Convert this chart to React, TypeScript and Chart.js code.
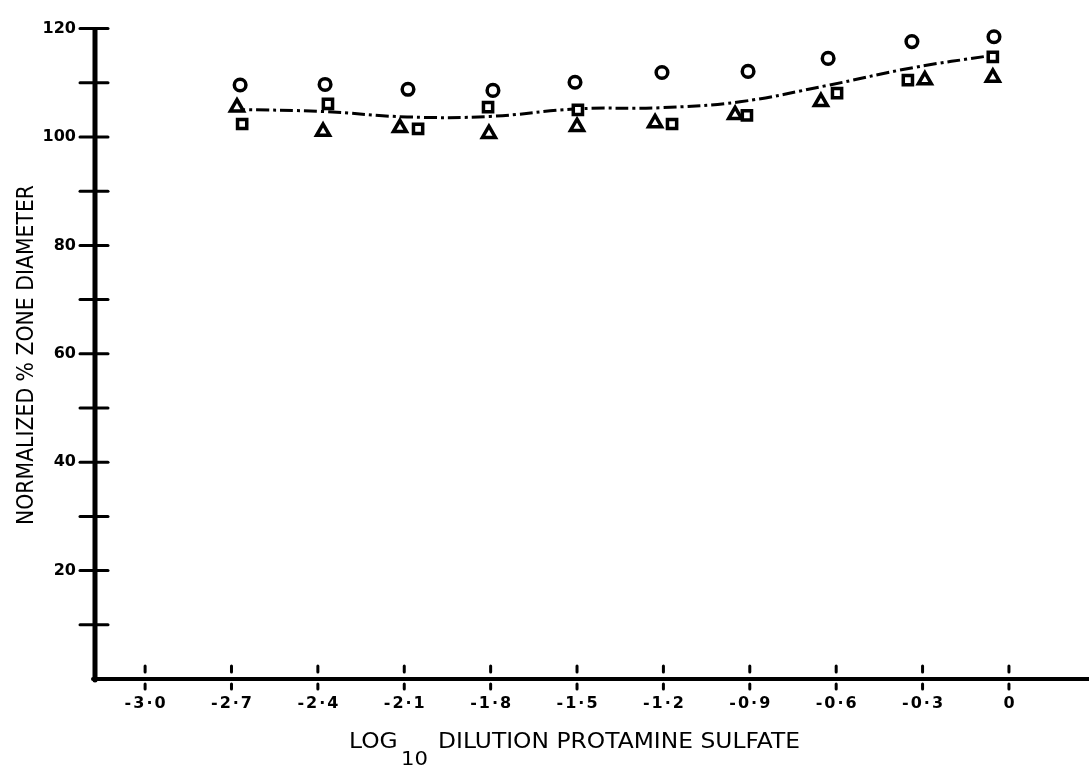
import React, { useEffect, useRef } from 'react';
import { Chart, registerables } from 'chart.js';

Chart.register(...registerables);

// ---------- data ----------
const xTickValues = [-3.0, -2.7, -2.4, -2.1, -1.8, -1.5, -1.2, -0.9, -0.6, -0.3, 0];
const xTickLabels = ['-3·0', '-2·7', '-2·4', '-2·1', '-1·8', '-1·5', '-1·2', '-0·9', '-0·6', '-0·3', '0'];
const yTickValues = [10, 20, 30, 40, 50, 60, 70, 80, 90, 100, 110, 120];
const yTickLabels = ['', '20', '', '40', '', '60', '', '80', '', '100', '', '120'];

const circleX = [-2.67, -2.375, -2.087, -1.792, -1.507, -1.205, -0.906, -0.628, -0.337, -0.052];
const circleY = [109.6, 109.7, 108.8, 108.6, 110.1, 111.9, 112.1, 114.5, 117.6, 118.5];

const squareX = [-2.663, -2.365, -2.052, -1.809, -1.497, -1.17, -0.91, -0.597, -0.351, -0.056];
const squareY = [102.4, 106.1, 101.5, 105.5, 105.0, 102.4, 104.0, 108.1, 110.5, 114.8];

const triangleX = [-2.681, -2.382, -2.115, -1.806, -1.5, -1.229, -0.951, -0.653, -0.292, -0.056];
const triangleY = [105.5, 101.0, 101.7, 100.6, 101.9, 102.6, 104.1, 106.5, 110.5, 111.0];

const fitX = [-2.698, -2.382, -2.09, -1.802, -1.5, -1.212, -0.934, -0.632, -0.333, -0.066];
const fitY = [105.1, 104.7, 103.7, 103.8, 105.2, 105.4, 106.5, 109.5, 112.8, 115.0];

const xTitleMain = 'LOG';
const xTitleSub = '10';
const xTitleRest = 'DILUTION PROTAMINE SULFATE';
const yTitle = 'NORMALIZED % ZONE DIAMETER';

const toPoints = (xs: number[], ys: number[]) => xs.map((x, i) => ({ x, y: ys[i] }));

const axesPlugin = {
  id: 'handAxes',
  beforeDatasetsDraw(chart: any) {
    const { ctx, chartArea } = chart;
    const { left, bottom } = chartArea;
    const xs = chart.scales.x;
    const ys = chart.scales.y;
    ctx.save();
    ctx.strokeStyle = '#000';
    ctx.lineCap = 'round';
    // y axis line
    ctx.lineWidth = 5;
    ctx.beginPath();
    ctx.moveTo(left, ys.getPixelForValue(120) + 2);
    ctx.lineTo(left, bottom + 1);
    ctx.stroke();
    // x axis line (runs to the page edge)
    ctx.lineWidth = 4;
    ctx.beginPath();
    ctx.moveTo(left - 2, bottom);
    ctx.lineTo(chart.width, bottom);
    ctx.stroke();
    // y ticks crossing the axis
    ctx.lineWidth = 3;
    yTickValues.forEach((v) => {
      const py = ys.getPixelForValue(v);
      ctx.beginPath();
      ctx.moveTo(left - 15, py);
      ctx.lineTo(left + 13, py);
      ctx.stroke();
    });
    // x ticks above and below the axis
    ctx.lineWidth = 3;
    xTickValues.forEach((v) => {
      const px = xs.getPixelForValue(v);
      ctx.beginPath();
      ctx.moveTo(px, bottom - 13);
      ctx.lineTo(px, bottom - 7);
      ctx.moveTo(px, bottom + 5);
      ctx.lineTo(px, bottom + 10);
      ctx.stroke();
    });
    // x tick labels
    ctx.fillStyle = '#000';
    ctx.font = 'bold 16px "DejaVu Sans"';
    ctx.textAlign = 'center';
    ctx.textBaseline = 'middle';
    try { (ctx as any).letterSpacing = '2px'; } catch (e) { /* ignore */ }
    xTickValues.forEach((v, i) => {
      const px = xs.getPixelForValue(v);
      ctx.fillText(xTickLabels[i], px + 1, bottom + 25);
    });
    ctx.restore();
  },
  afterDraw(chart: any) {
    const { ctx } = chart;
    ctx.save();
    ctx.fillStyle = '#000';
    ctx.textBaseline = 'alphabetic';
    ctx.textAlign = 'left';
    // x title with subscript
    ctx.font = '21px "DejaVu Sans"';
    const wMain = ctx.measureText(xTitleMain).width;
    const wRest = ctx.measureText(xTitleRest).width;
    ctx.font = '19px "DejaVu Sans"';
    const wSub = ctx.measureText(xTitleSub).width;
    const gap1 = 3;
    const gap2 = 9;
    const total = wMain + gap1 + wSub + gap2 + wRest;
    const sx = 451 / total;
    ctx.translate(349, 0);
    ctx.scale(sx, 1);
    ctx.font = '21px "DejaVu Sans"';
    ctx.fillText(xTitleMain, 0, 748);
    ctx.fillText(xTitleRest, wMain + gap1 + wSub + gap2, 748);
    ctx.font = '19px "DejaVu Sans"';
    ctx.fillText(xTitleSub, wMain + gap1, 765);
    ctx.restore();

    ctx.save();
    ctx.fillStyle = '#000';
    ctx.font = '23px "DejaVu Sans"';
    ctx.textBaseline = 'alphabetic';
    ctx.textAlign = 'center';
    const wy = ctx.measureText(yTitle).width;
    ctx.translate(33, 355);
    ctx.rotate(-Math.PI / 2);
    ctx.scale(340 / wy, 1);
    ctx.fillText(yTitle, 0, 0);
    ctx.restore();
  },
};

export default function App() {
  const ref = useRef<HTMLCanvasElement | null>(null);

  useEffect(() => {
    document.body.style.margin = '0';
    const canvas = ref.current;
    if (!canvas) return;
    const markerBase = {
      showLine: false,
      borderColor: '#000',
      backgroundColor: '#fff',
      pointBorderColor: '#000',
      pointBackgroundColor: '#fff',
      pointBorderWidth: 3.5,
      clip: false as any,
    };
    const chart = new Chart(canvas, {
      type: 'line',
      data: {
        datasets: [
          {
            label: 'fit',
            data: toPoints(fitX, fitY),
            borderColor: '#000',
            borderWidth: 3,
            borderDash: [13, 4, 3, 4],
            pointRadius: 0,
            tension: 0.4,
            fill: false,
            order: 10,
          } as any,
          {
            ...markerBase,
            label: 'circles',
            data: toPoints(circleX, circleY),
            pointStyle: 'circle',
            pointRadius: 5.8,
            order: 1,
          },
          {
            ...markerBase,
            label: 'squares',
            data: toPoints(squareX, squareY),
            pointStyle: 'rect',
            pointRadius: 6.5,
            order: 1,
          },
          {
            ...markerBase,
            label: 'triangles',
            data: toPoints(triangleX, triangleY),
            pointStyle: 'triangle',
            pointRadius: 7.5,
            order: 1,
          },
        ],
      },
      options: {
        animation: false,
        responsive: false,
        devicePixelRatio: 1,
        events: [],
        layout: { autoPadding: false, padding: { top: 21, right: 0, left: 0, bottom: 0 } },
        plugins: {
          legend: { display: false },
          tooltip: { enabled: false },
          title: { display: false },
        },
        scales: {
          x: {
            type: 'linear',
            min: -3.174,
            max: 0.278,
            border: { display: false },
            grid: { display: false, drawTicks: false },
            afterBuildTicks: (scale: any) => {
              scale.ticks = xTickValues.map((v) => ({ value: v }));
            },
            afterFit: (scale: any) => {
              scale.height = 87;
            },
            ticks: { display: false },
          },
          y: {
            type: 'linear',
            min: 0,
            max: 120,
            border: { display: false },
            grid: { display: false, drawTicks: false },
            afterBuildTicks: (scale: any) => {
              scale.ticks = yTickValues.map((v) => ({ value: v }));
            },
            afterFit: (scale: any) => {
              scale.width = 95;
            },
            ticks: {
              autoSkip: false,
              padding: 19,
              color: '#000',
              font: { family: '"DejaVu Sans"', size: 16, weight: 'bold' },
              callback: (_v: any, i: number) => yTickLabels[i],
            },
          },
        },
      } as any,
      plugins: [axesPlugin],
    });
    return () => chart.destroy();
  }, []);

  return (
    <div style={{ position: 'relative', width: 1089, height: 766, background: '#fff' }}>
      <canvas ref={ref} width={1089} height={766} style={{ display: 'block' }} />
    </div>
  );
}
